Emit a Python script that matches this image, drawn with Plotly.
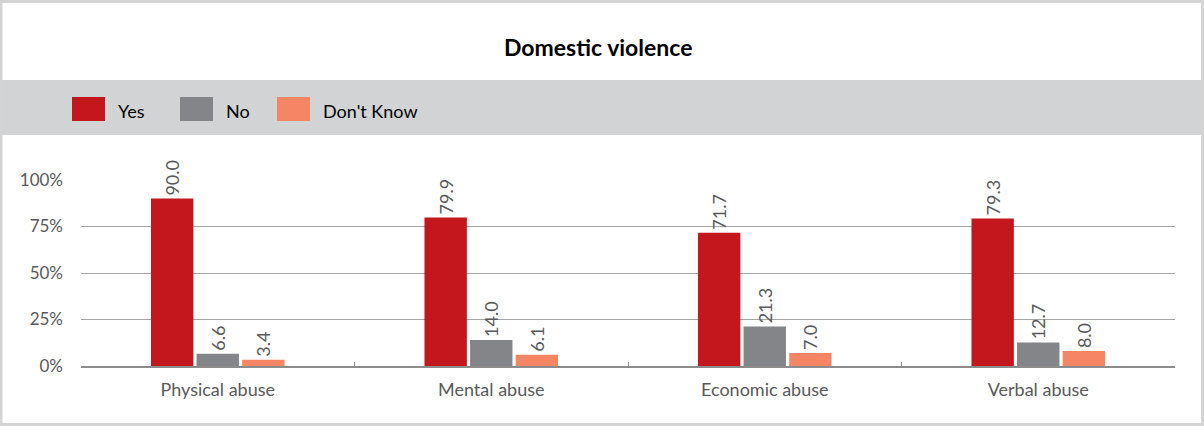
import plotly.graph_objects as go

# Survey results: share of respondents per answer, by type of abuse
categories = ["Physical abuse", "Mental abuse", "Economic abuse", "Verbal abuse"]
yes_vals = [90.0, 79.9, 71.7, 79.3]
no_vals = [6.6, 14.0, 21.3, 12.7]
dont_know_vals = [3.4, 6.1, 7.0, 8.0]
series_names = ["Yes", "No", "Don't Know"]
y_ticks = [0, 25, 50, 75, 100]
y_tick_labels = ["0%", "25%", "50%", "75%", "100%"]

colors = ["#c4161d", "#848589", "#f58665"]
FONT = "Lato"
W, H = 1204, 426
L, R, T, B = 81, 29, 180, 60
PW, PH = W - L - R, H - T - B


def px_x(x):
    return (x - L) / PW


def px_y(y):
    return (H - B - y) / PH


fig = go.Figure()
for name, vals, col in zip(series_names, [yes_vals, no_vals, dont_know_vals], colors):
    fig.add_trace(go.Bar(
        x=categories, y=vals, name=name, marker=dict(color=col, line=dict(width=0)),
        text=[f"{v:.1f}" for v in vals], textposition="outside", textangle=-90,
        textfont=dict(family=FONT, size=18, color="#595959"),
        cliponaxis=False, constraintext="none", showlegend=False,
    ))

shapes = [
    # outer frame
    dict(type="rect", xref="paper", yref="paper", x0=px_x(1), x1=px_x(W - 1.5),
         y0=px_y(H - 1.5), y1=px_y(1.5), line=dict(color="#d4d4d4", width=3),
         fillcolor="rgba(0,0,0,0)", layer="below"),
    # legend band
    dict(type="rect", xref="paper", yref="paper", x0=px_x(2), x1=px_x(W - 2),
         y0=px_y(135), y1=px_y(80), line=dict(width=0), fillcolor="#d2d3d5", layer="below"),
]

annotations = [
    dict(text="<b>Domestic violence</b>", xref="paper", yref="paper", x=px_x(598), y=px_y(47),
         showarrow=False, font=dict(family=FONT, size=23, color="#000000"),
         xanchor="center", yanchor="middle"),
]

# custom legend swatches and labels
legend_x = [72, 180, 277]
for lx, name, col in zip(legend_x, series_names, colors):
    shapes.append(dict(type="rect", xref="paper", yref="paper", x0=px_x(lx), x1=px_x(lx + 33),
                       y0=px_y(121), y1=px_y(97), line=dict(width=0), fillcolor=col))
    annotations.append(dict(text=name, xref="paper", yref="paper", x=px_x(lx + 44), y=px_y(111),
                            showarrow=False, xanchor="left", yanchor="middle",
                            font=dict(family=FONT, size=18, color="#000000")))

fig.update_layout(
    width=W, height=H, margin=dict(l=L, r=R, t=T, b=B),
    paper_bgcolor="white", plot_bgcolor="white",
    barmode="group", bargap=0.5, bargroupgap=0.07,
    shapes=shapes, annotations=annotations, showlegend=False,
    font=dict(family=FONT, color="#595959"),
)
fig.update_xaxes(
    showline=True, linecolor="#8c8c8c", linewidth=2,
    ticks="inside", tickson="boundaries", ticklen=4, tickcolor="#8c8c8c", tickwidth=1,
    showgrid=False, tickfont=dict(family=FONT, size=18, color="#595959"),
    ticklabelstandoff=6,
)
fig.update_yaxes(
    range=[0, 100], tickvals=y_ticks, ticktext=y_tick_labels,
    showgrid=True, gridcolor="#a6a6a6", gridwidth=1, zeroline=False, showline=False,
    tickfont=dict(family=FONT, size=17, color="#595959"), ticklabelstandoff=17,
)

fig.write_html("out.html")
